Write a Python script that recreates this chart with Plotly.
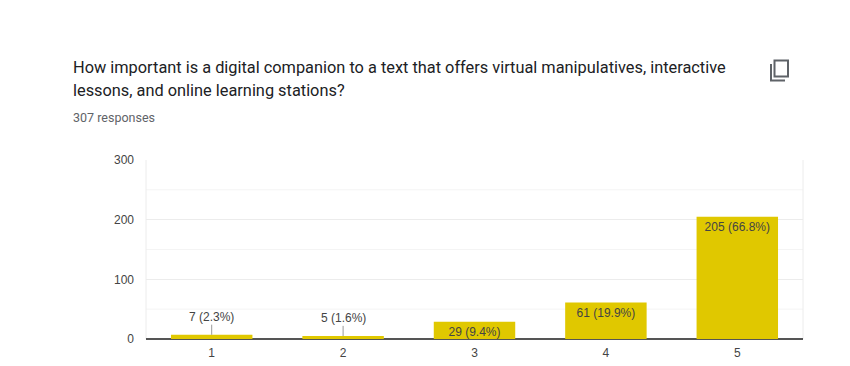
import plotly.graph_objects as go

categories = ["1", "2", "3", "4", "5"]
counts = [7, 5, 29, 61, 205]
bar_labels = ["", "", "29 (9.4%)", "61 (19.9%)", "205 (66.8%)"]
callout_labels = ["7 (2.3%)", "5 (1.6%)"]
y_ticks = [0, 100, 200, 300]
minor_grid = [50, 150, 250]
question_lines = ["How important is a digital companion to a text that offers virtual manipulatives, interactive",
                  "lessons, and online learning stations?"]
responses = "307 responses"

# the page adds an 8 px body margin
OFF = 8
W, H = 850 - OFF, 366 - OFF
L, R, T, B = 146 - OFF, 803 - OFF, 160 - OFF, 339 - OFF
px = lambda x: (x - OFF - L) / (R - L)
py = lambda y: (B - (y - OFF)) / (B - T)

fig = go.Figure(go.Bar(
    x=categories, y=counts, marker=dict(color="#e0c800", line_width=0), width=0.62,
    text=bar_labels, textposition="inside", insidetextanchor="end", textangle=0,
    constraintext="none", cliponaxis=False,
    textfont=dict(family="Liberation Sans", size=12, color="#444444"),
    hoverinfo="skip",
))

annotations = []
for line, y in zip(question_lines, (67, 90)):
    annotations.append(dict(xref="paper", yref="paper", x=px(71), y=py(y), xanchor="left", yanchor="middle",
                            text=line, align="left", showarrow=False,
                            font=dict(family="Roboto", size=16.35, color="#202124")))
annotations.append(dict(xref="paper", yref="paper", x=px(71), y=py(117), xanchor="left", yanchor="middle",
                        text=responses, align="left", showarrow=False,
                        font=dict(family="Roboto", size=12.5, color="#5f6368")))
for i, lab in enumerate(callout_labels):
    annotations.append(dict(
        x=i, y=counts[i], xref="x", yref="y", text=lab,
        showarrow=False, yanchor="middle", yshift=18,
        font=dict(family="Liberation Sans", size=12, color="#444444"),
    ))

shapes = [dict(type="line", xref="paper", yref="y", x0=0, x1=1, y0=v, y1=v,
               line=dict(color="#f4f4f4", width=1), layer="below") for v in minor_grid]
shapes += [dict(type="line", xref="paper", yref="paper", x0=v, x1=v, y0=0, y1=1,
                line=dict(color="#ececec", width=1), layer="below") for v in (0, 1)]
# leader lines from the two small bars up to their labels
shapes += [dict(type="line", xref="x", yref="y", x0=i, x1=i, y0=counts[i], y1=counts[i] + 17,
                line=dict(color="#999999", width=1)) for i in range(len(callout_labels))]
icon = dict(xref="paper", yref="paper", line=dict(color="#5f6368", width=2))
shapes += [
    dict(type="rect", x0=px(774.5), x1=px(788), y0=py(60.5), y1=py(76.5), **icon),
    dict(type="path", path=f"M {px(771)} {py(64)} L {px(771)} {py(80.5)} L {px(785)} {py(80.5)}", **icon),
]

fig.update_layout(
    width=W, height=H, autosize=False,
    margin=dict(l=L, r=W - R, t=T, b=H - B, autoexpand=False),
    paper_bgcolor="white", plot_bgcolor="white", showlegend=False,
    annotations=annotations, shapes=shapes,
    font=dict(family="Liberation Sans", size=12, color="#444444"),
    xaxis=dict(type="category", showgrid=False, ticks="", showline=False, zeroline=False,
               ticklabelstandoff=5, automargin=False,
               tickfont=dict(family="Liberation Sans", size=12, color="#444444")),
    yaxis=dict(range=[0, 300], tickvals=y_ticks, gridcolor="#ececec", gridwidth=1,
               zeroline=True, zerolinecolor="#555555", zerolinewidth=1.5, showline=False,
               ticks="", ticklabelstandoff=11, automargin=False,
               tickfont=dict(family="Liberation Sans", size=12, color="#444444")),
)
fig.write_html("out.html", config=dict(displayModeBar=False))
